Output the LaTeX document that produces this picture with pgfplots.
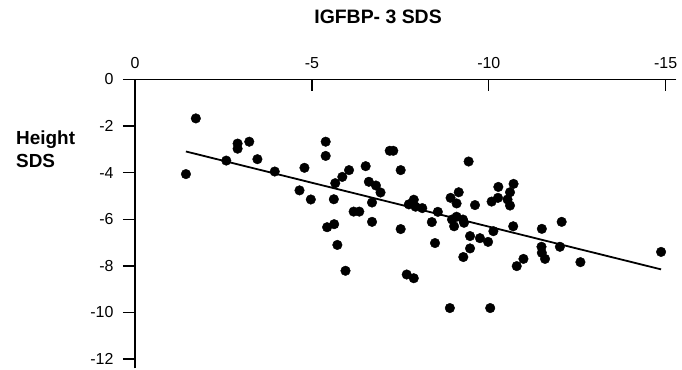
\documentclass[border=0pt]{standalone}
\usepackage{fontspec}
\setmainfont{Liberation Sans}
\usepackage{pgfplots}
\pgfplotsset{compat=1.18}
\begin{document}
\begin{tikzpicture}
\useasboundingbox (-135bp,-1.6bp) rectangle (547bp,368.4bp);
\begin{axis}[
 scale only axis, width=541.3bp, height=288.9bp,
 x dir=reverse, xmin=-15.3, xmax=0, ymin=-12.4, ymax=0,
 clip=false,
 separate axis lines,
 axis x line*=top, axis y line*=left,
 x axis line style={draw=black, line width=1.3bp},
 y axis line style={draw=black, line width=1.3bp},
 xtick={0,-5,-10,-15}, xticklabels={0,-5,-10,-15},
 ytick={0,-2,-4,-6,-8,-10,-12}, yticklabels={0,-2,-4,-6,-8,-10,-12},
 xtick align=inside, ytick align=outside, major tick length=12bp,
 xtick style={draw=black, line width=1.3bp},
 ytick style={draw=black, line width=1.3bp},
 xticklabel style={font=\fontsize{16}{16}\selectfont, yshift=7.5bp},
 yticklabel style={font=\fontsize{16}{16}\selectfont, xshift=-6bp},
 title={IGFBP- 3 SDS},
 title style={font=\bfseries\fontsize{19.5}{19.5}\selectfont, at={(axis description cs:0.449,1)}, anchor=center, yshift=57bp},
 ylabel={Height\\SDS},
 ylabel style={rotate=-90, font=\bfseries\fontsize{19}{23}\selectfont, align=left, inner sep=0pt, at={(axis description cs:0,1)}, anchor=north west, xshift=-119bp, yshift=-51.5bp},
]
\addplot[black, line width=1.3bp, forget plot] coordinates {(0.25,0) (-15.3,0)};
\addplot[only marks, mark=*, mark size=4.8bp, black] table {
x y
-1.44 -4.06
-1.72 -1.67
-2.58 -3.48
-2.90 -2.75
-2.90 -2.97
-3.23 -2.67
-3.46 -3.42
-3.95 -3.95
-4.79 -3.79
-4.65 -4.76
-4.97 -5.15
-5.39 -2.67
-5.39 -3.28
-5.66 -4.45
-5.86 -4.18
-6.05 -3.89
-5.62 -5.14
-5.43 -6.34
-5.63 -6.21
-5.72 -7.10
-5.95 -8.21
-6.18 -5.67
-6.34 -5.67
-6.52 -3.72
-6.61 -4.39
-6.81 -4.55
-6.94 -4.85
-6.70 -5.28
-6.70 -6.11
-7.20 -3.06
-7.30 -3.06
-7.51 -3.89
-7.51 -6.42
-7.74 -5.36
-7.88 -5.16
-7.93 -5.46
-8.12 -5.52
-7.68 -8.37
-7.88 -8.53
-8.39 -6.12
-8.48 -7.02
-8.56 -5.68
-9.43 -3.52
-8.92 -5.08
-9.15 -4.84
-9.09 -5.32
-9.61 -5.39
-8.96 -6.01
-9.09 -5.89
-9.02 -6.30
-9.30 -6.15
-9.27 -6.01
-9.47 -6.72
-9.47 -7.25
-9.28 -7.62
-9.75 -6.81
-9.98 -6.97
-10.13 -6.51
-10.08 -5.24
-10.27 -4.61
-10.26 -5.08
-10.53 -5.15
-10.60 -4.84
-10.70 -4.48
-10.60 -5.41
-10.69 -6.30
-8.90 -9.81
-10.04 -9.81
-10.98 -7.70
-10.79 -8.01
-11.50 -6.41
-11.49 -7.18
-11.50 -7.44
-11.59 -7.70
-12.01 -7.18
-12.06 -6.11
-12.59 -7.84
-14.87 -7.40
};
\addplot[black, line width=1.8bp] coordinates {(-1.44,-3.09) (-14.87,-8.15)};
\end{axis}
\end{tikzpicture}
\end{document}
